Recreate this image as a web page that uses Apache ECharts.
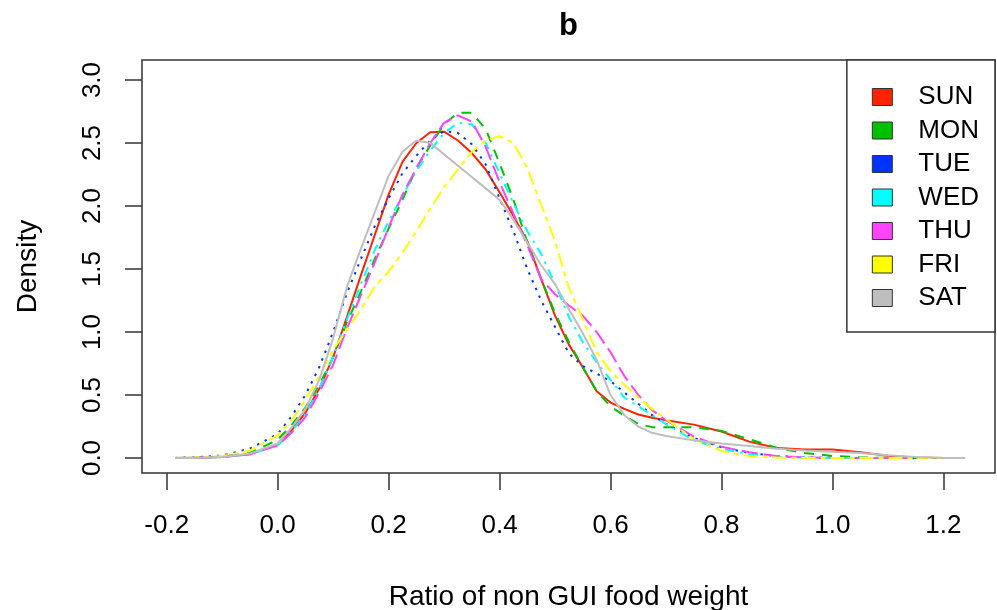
<!DOCTYPE html>
<html>
<head>
<meta charset="utf-8">
<script src="https://cdn.jsdelivr.net/npm/echarts@6/dist/echarts.min.js"></script>
<style>html,body{margin:0;padding:0;background:#fff;}#c{width:997px;height:610px;}</style>
</head>
<body>
<div id="c"></div>
<script>
// ---- data ----
const xGrid = [-0.185, -0.15, -0.1, -0.05, 0, 0.025, 0.05, 0.075, 0.1, 0.125, 0.15, 0.175, 0.2, 0.225, 0.25, 0.275, 0.3, 0.325, 0.35, 0.375, 0.4, 0.425, 0.45, 0.475, 0.5, 0.525, 0.55, 0.575, 0.6, 0.625, 0.65, 0.675, 0.7, 0.75, 0.8, 0.85, 0.9, 0.95, 1.0, 1.05, 1.1, 1.15, 1.2, 1.239];

const sun = [0, 0.002, 0.008, 0.03, 0.11, 0.22, 0.36, 0.55, 0.80, 1.12, 1.45, 1.77, 2.09, 2.35, 2.50, 2.585, 2.59, 2.52, 2.42, 2.29, 2.11, 1.92, 1.72, 1.42, 1.13, 0.90, 0.72, 0.53, 0.44, 0.39, 0.345, 0.32, 0.30, 0.265, 0.21, 0.13, 0.08, 0.068, 0.068, 0.045, 0.018, 0.005, 0.001, 0];
const mon = [0, 0.003, 0.01, 0.04, 0.145, 0.26, 0.40, 0.58, 0.80, 1.08, 1.32, 1.58, 1.82, 2.05, 2.30, 2.48, 2.65, 2.74, 2.74, 2.61, 2.34, 2.05, 1.71, 1.42, 1.15, 0.92, 0.72, 0.53, 0.41, 0.335, 0.27, 0.245, 0.245, 0.245, 0.215, 0.15, 0.08, 0.04, 0.016, 0.005, 0.001, 0, 0, 0];
const tue = [0.001, 0.005, 0.02, 0.075, 0.19, 0.33, 0.50, 0.72, 1.00, 1.31, 1.58, 1.84, 2.06, 2.26, 2.40, 2.52, 2.595, 2.58, 2.49, 2.33, 2.06, 1.80, 1.50, 1.25, 1.04, 0.83, 0.73, 0.67, 0.61, 0.52, 0.43, 0.34, 0.27, 0.16, 0.085, 0.04, 0.015, 0.005, 0.001, 0, 0, 0, 0, 0];
const wed = [0, 0.002, 0.008, 0.03, 0.10, 0.21, 0.35, 0.55, 0.80, 1.10, 1.38, 1.65, 1.88, 2.08, 2.28, 2.44, 2.58, 2.66, 2.65, 2.50, 2.26, 2.02, 1.80, 1.62, 1.38, 1.12, 0.92, 0.76, 0.62, 0.48, 0.41, 0.34, 0.27, 0.14, 0.075, 0.03, 0.01, 0.003, 0, 0, 0, 0, 0, 0];
const thu = [0, 0.002, 0.007, 0.03, 0.10, 0.20, 0.325, 0.52, 0.74, 1.03, 1.29, 1.55, 1.83, 2.09, 2.30, 2.50, 2.66, 2.72, 2.67, 2.47, 2.19, 1.94, 1.69, 1.42, 1.30, 1.21, 1.13, 1.00, 0.84, 0.65, 0.50, 0.38, 0.30, 0.17, 0.09, 0.045, 0.015, 0.005, 0.001, 0, 0, 0, 0, 0];
const fri = [0.001, 0.004, 0.015, 0.06, 0.18, 0.30, 0.46, 0.65, 0.86, 1.02, 1.18, 1.36, 1.48, 1.63, 1.80, 1.98, 2.15, 2.29, 2.43, 2.52, 2.555, 2.50, 2.30, 2.01, 1.72, 1.35, 1.10, 0.84, 0.69, 0.58, 0.48, 0.39, 0.31, 0.15, 0.055, 0.015, 0.004, 0, 0, 0, 0, 0, 0, 0];
const sat = [0, 0.002, 0.008, 0.035, 0.115, 0.24, 0.39, 0.62, 0.95, 1.36, 1.66, 1.95, 2.24, 2.43, 2.52, 2.50, 2.41, 2.32, 2.23, 2.14, 2.05, 1.89, 1.71, 1.53, 1.38, 1.18, 0.99, 0.78, 0.50, 0.34, 0.25, 0.20, 0.175, 0.14, 0.115, 0.095, 0.073, 0.06, 0.05, 0.04, 0.022, 0.008, 0.001, 0];

const seriesNames = ['SUN', 'MON', 'TUE', 'WED', 'THU', 'FRI', 'SAT'];
const seriesValues = [sun, mon, tue, wed, thu, fri, sat];
const xTicks = [-0.2, 0.0, 0.2, 0.4, 0.6, 0.8, 1.0, 1.2];
const yTicks = [0.0, 0.5, 1.0, 1.5, 2.0, 2.5, 3.0];

// ---- styles ----
const colors = ['#FF2200', '#00C000', '#0033FF', '#00FFFF', '#FF44FF', '#FFFF00', '#BEBEBE'];
const dashes = ['solid', [10, 8], [2.4, 6], [2.4, 6, 9.6, 6], [16, 6], [5, 5, 14, 5], 'solid'];
const FONT = 'Liberation Sans, Arial, Helvetica, sans-serif';

const chart = echarts.init(document.getElementById('c'), null, {renderer: 'canvas'});
const series = seriesNames.map((name, i) => ({
  name: name,
  type: 'line',
  data: xGrid.map((x, k) => [x, seriesValues[i][k]]),
  showSymbol: false,
  symbol: 'none',
  smooth: false,
  itemStyle: {color: colors[i]},
  lineStyle: {color: colors[i], width: 2, type: dashes[i]},
  emphasis: {disabled: true},
  z: 2 + i
}));

chart.setOption({
  animation: false,
  backgroundColor: '#fff',
  textStyle: {fontFamily: FONT},
  title: {
    text: 'b', left: 554, top: 6,
    textStyle: {fontSize: 31, fontWeight: 'bold', color: '#000', fontFamily: FONT}
  },
  grid: {
    left: 142, right: 2, top: 60, bottom: 137,
    containLabel: false, outerBoundsMode: 'none',
    show: true, borderColor: '#333', borderWidth: 1.5, backgroundColor: 'transparent'
  },
  legend: {
    data: seriesNames,
    orient: 'vertical',
    right: 2, top: 60,
    padding: [24, 16, 21, 25],
    itemWidth: 20, itemHeight: 17, itemGap: 7.5,
    icon: 'rect',
    itemStyle: {borderColor: '#333', borderWidth: 1},
    lineStyle: {width: 0},
    borderColor: '#333', borderWidth: 1.5, backgroundColor: '#fff',
    textStyle: {fontSize: 26, color: '#000', fontFamily: FONT, padding: [0, 0, 0, 21]}
  },
  xAxis: {
    type: 'value', min: -0.2445, max: 1.293,
    name: 'Ratio of non GUI food weight', nameLocation: 'middle', nameGap: 110,
    nameTextStyle: {fontSize: 28, color: '#000', fontFamily: FONT},
    axisLine: {show: false, onZero: false},
    axisTick: {show: true, length: 17, customValues: xTicks, lineStyle: {color: '#333', width: 1.5}},
    axisLabel: {customValues: xTicks, fontSize: 26, color: '#000', margin: 40, fontFamily: FONT,
      formatter: v => v.toFixed(1)},
    splitLine: {show: false}
  },
  yAxis: {
    type: 'value', min: -0.119, max: 3.159,
    name: 'Density', nameLocation: 'middle', nameGap: 100, nameRotate: 90,
    nameTextStyle: {fontSize: 28, color: '#000', fontFamily: FONT},
    axisLine: {show: false, onZero: false},
    axisTick: {show: true, length: 17, customValues: yTicks, lineStyle: {color: '#333', width: 1.5}},
    axisLabel: {customValues: yTicks, fontSize: 26, color: '#000', margin: 36, rotate: 90, fontFamily: FONT,
      formatter: v => v.toFixed(1)},
    splitLine: {show: false}
  },
  series: series
});
</script>
</body>
</html>
